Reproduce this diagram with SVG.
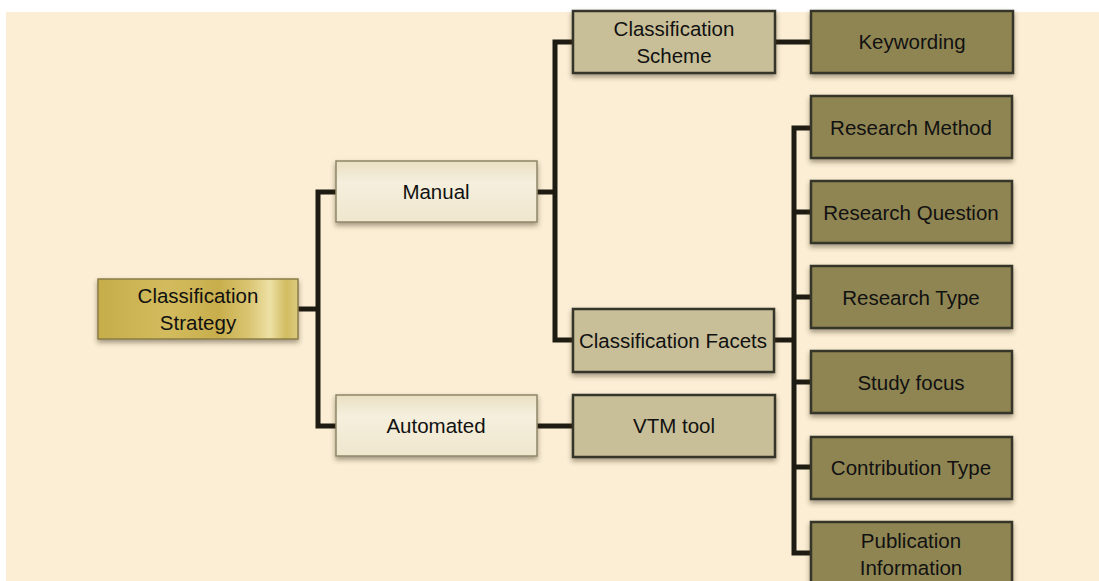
<svg xmlns="http://www.w3.org/2000/svg" width="1099" height="581" viewBox="0 0 1099 581">
  <defs>
    <linearGradient id="gold" x1="0" y1="0" x2="1" y2="0">
      <stop offset="0" stop-color="#c6ad4b"/>
      <stop offset="0.35" stop-color="#d3bc5e"/>
      <stop offset="0.6" stop-color="#c8ae4c"/>
      <stop offset="0.75" stop-color="#d9c470"/>
      <stop offset="0.86" stop-color="#ede0a4"/>
      <stop offset="0.94" stop-color="#d2bd62"/>
      <stop offset="1" stop-color="#dccb80"/>
    </linearGradient>
    <linearGradient id="cream" x1="0" y1="0" x2="0" y2="1">
      <stop offset="0" stop-color="#e9dfc2"/>
      <stop offset="0.35" stop-color="#f5efdd"/>
      <stop offset="1" stop-color="#efe6cd"/>
    </linearGradient>
    <filter id="shadow" x="-10%" y="-20%" width="120%" height="160%">
      <feDropShadow dx="0" dy="3" stdDeviation="2.5" flood-color="#3a2f1a" flood-opacity="0.45"/>
    </filter>
  </defs>
  <style>
    .label { font-family: "Liberation Sans", Arial, sans-serif; font-size: 20.5px; fill: #111; text-anchor: middle; }
    .root { fill: url(#gold); stroke: #8a7c45; stroke-width: 1.5; filter: url(#shadow); }
    .branch { fill: url(#cream); stroke: #8e8668; stroke-width: 1.5; filter: url(#shadow); }
    .mid { fill: #c8bf98; stroke: #35342a; stroke-width: 2.5; filter: url(#shadow); }
    .leaf { fill: #8f8552; stroke: #35342a; stroke-width: 2.5; filter: url(#shadow); }
    .wire { fill: none; stroke: #1e1b12; stroke-width: 5; stroke-linejoin: miter; }
  </style>

  <!-- parchment page -->
  <rect x="0" y="0" width="1099" height="581" fill="#ffffff"/>
  <rect x="6" y="12" width="1093" height="569" fill="#fbeed5"/>

  <!-- connectors -->
  <g id="connectors">
    <path class="wire" d="M298,309 H318"/>
    <path class="wire" d="M336,192 H318 V426 H336"/>
    <path class="wire" d="M537,192 H555"/>
    <path class="wire" d="M573,42 H555 V340 H573"/>
    <path class="wire" d="M537,426 H573"/>
    <path class="wire" d="M775,42 H811"/>
    <path class="wire" d="M774,340 H794"/>
    <path class="wire" d="M811,128 H794 V553 H811"/>
    <path class="wire" d="M794,212 H811 M794,297 H811 M794,382 H811 M794,467 H811"/>
  </g>

  <!-- nodes -->
  <g id="classification-strategy">
    <rect class="root" x="98" y="279" width="200" height="60"/>
    <text class="label" x="198" y="303">Classification</text>
    <text class="label" x="198" y="330">Strategy</text>
  </g>
  <g id="manual">
    <rect class="branch" x="336" y="161" width="201" height="61"/>
    <text class="label" x="436" y="199">Manual</text>
  </g>
  <g id="automated">
    <rect class="branch" x="336" y="395" width="201" height="61"/>
    <text class="label" x="436" y="433">Automated</text>
  </g>
  <g id="classification-scheme">
    <rect class="mid" x="573" y="11" width="202" height="62"/>
    <text class="label" x="674" y="36">Classification</text>
    <text class="label" x="674" y="63">Scheme</text>
  </g>
  <g id="classification-facets">
    <rect class="mid" x="573" y="309" width="201" height="63"/>
    <text class="label" x="673" y="348">Classification Facets</text>
  </g>
  <g id="vtm-tool">
    <rect class="mid" x="573" y="395" width="202" height="62"/>
    <text class="label" x="674" y="433">VTM tool</text>
  </g>
  <g id="keywording">
    <rect class="leaf" x="811" y="11" width="202" height="62"/>
    <text class="label" x="912" y="49">Keywording</text>
  </g>
  <g id="research-method">
    <rect class="leaf" x="811" y="96" width="201" height="62"/>
    <text class="label" x="911" y="135">Research Method</text>
  </g>
  <g id="research-question">
    <rect class="leaf" x="811" y="181" width="201" height="62"/>
    <text class="label" x="911" y="220">Research Question</text>
  </g>
  <g id="research-type">
    <rect class="leaf" x="811" y="266" width="201" height="62"/>
    <text class="label" x="911" y="305">Research Type</text>
  </g>
  <g id="study-focus">
    <rect class="leaf" x="811" y="351" width="201" height="62"/>
    <text class="label" x="911" y="390">Study focus</text>
  </g>
  <g id="contribution-type">
    <rect class="leaf" x="811" y="437" width="201" height="62"/>
    <text class="label" x="911" y="475">Contribution Type</text>
  </g>
  <g id="publication-information">
    <rect class="leaf" x="811" y="522" width="201" height="62"/>
    <text class="label" x="911" y="548">Publication</text>
    <text class="label" x="911" y="575">Information</text>
  </g>
</svg>
